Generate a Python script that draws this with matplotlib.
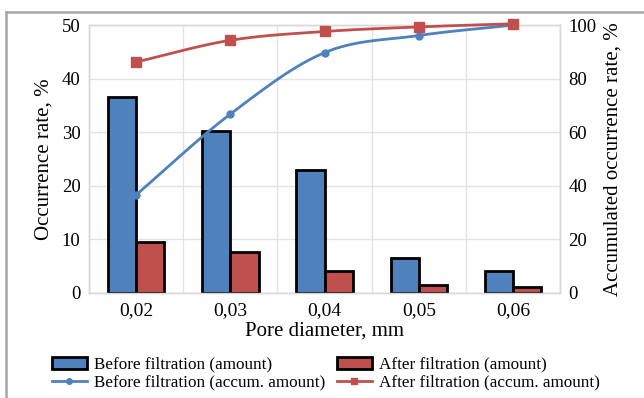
import numpy as np
import matplotlib
matplotlib.use("Agg")
import matplotlib.pyplot as plt
from matplotlib.lines import Line2D

# Data
pore_labels = ["0,02", "0,03", "0,04", "0,05", "0,06"]
before_amount = [36.5, 30.2, 23.0, 6.4, 4.0]
after_amount = [9.5, 7.5, 4.1, 1.5, 1.0]
before_accum = [36.5, 66.7, 89.7, 96.1, 100.0]
after_accum = [86.2, 94.3, 97.6, 99.3, 100.5]

BLUE = "#4f81bd"
RED = "#c0504d"
GRID = "#e3e3e3"

plt.rcParams["font.family"] = ["Liberation Serif", "DejaVu Serif"]


def smooth_curve(x, y, n=30):
    """Catmull-Rom spline through the points, used only for drawing the line."""
    x = np.asarray(x, float)
    y = np.asarray(y, float)
    px = np.concatenate([[2 * x[0] - x[1]], x, [2 * x[-1] - x[-2]]])
    py = np.concatenate([[2 * y[0] - y[1]], y, [2 * y[-1] - y[-2]]])
    xs, ys = [], []
    t = np.linspace(0, 1, n)
    for i in range(1, len(px) - 2):
        for P, out in ((px, xs), (py, ys)):
            p0, p1, p2, p3 = P[i - 1], P[i], P[i + 1], P[i + 2]
            out.append(0.5 * ((2 * p1) + (-p0 + p2) * t
                              + (2 * p0 - 5 * p1 + 4 * p2 - p3) * t ** 2
                              + (-p0 + 3 * p1 - 3 * p2 + p3) * t ** 3))
    return np.concatenate(xs), np.concatenate(ys)


fig = plt.figure(figsize=(6.44, 3.98), dpi=100)
ax = fig.add_axes([0.138, 0.265, 0.732, 0.672])
ax2 = ax.twinx()

x = np.arange(len(pore_labels))
w = 0.3
ax.bar(x - w / 2, before_amount, w, color=BLUE, edgecolor="black", linewidth=2, zorder=3)
ax.bar(x + w / 2, after_amount, w, color=RED, edgecolor="black", linewidth=2, zorder=3)

ax.set_xlim(-0.5, len(pore_labels) - 0.5)
ax.set_ylim(0, 50)
ax.set_yticks(range(0, 51, 10))
ax.set_xticks(x)
ax.set_xticklabels(pore_labels)
ax.set_xticks(np.arange(-0.5, len(pore_labels), 1.0), minor=True)
ax.grid(True, axis="y", which="major", color=GRID, linewidth=1, zorder=0)
ax.grid(True, axis="x", which="minor", color=GRID, linewidth=1, zorder=0)
ax.tick_params(axis="y", which="both", length=0, labelsize=13.5, pad=6)
ax.tick_params(axis="x", which="both", length=0, labelsize=14, pad=7)

for a in (ax, ax2):
    for s in a.spines.values():
        s.set_color("#d9d9d9")
        s.set_linewidth(1)

sx, sy = smooth_curve(x, before_accum)
ax2.plot(sx, sy, color=BLUE, linewidth=2, zorder=4, clip_on=False)
ax2.plot(x, before_accum, linestyle="none", marker="o", markersize=5, color=BLUE,
         zorder=5, clip_on=False)
sx, sy = smooth_curve(x, after_accum)
ax2.plot(sx, sy, color=RED, linewidth=2, zorder=4, clip_on=False)
ax2.plot(x, after_accum, linestyle="none", marker="s", markersize=7, color=RED,
         zorder=5, clip_on=False)
ax2.set_ylim(0, 100)
ax2.set_yticks(range(0, 101, 20))
ax2.tick_params(axis="y", length=0, labelsize=13.5, pad=6)

ax.set_xlabel("Pore diameter, mm", fontsize=15, labelpad=2)
ax.set_ylabel("Occurrence rate, %", fontsize=15, labelpad=6)
ax2.set_ylabel("Accumulated occurrence rate, %", fontsize=15, labelpad=5)

handles = [
    plt.Rectangle((0, 0), 1, 1, facecolor=BLUE, edgecolor="black", linewidth=2),
    Line2D([], [], color=BLUE, linewidth=2, marker="o", markersize=4),
    plt.Rectangle((0, 0), 1, 1, facecolor=RED, edgecolor="black", linewidth=2),
    Line2D([], [], color=RED, linewidth=2, marker="s", markersize=5),
]
labels = [
    "Before filtration (amount)",
    "Before filtration (accum. amount)",
    "After filtration (amount)",
    "After filtration (accum. amount)",
]
fig.legend(handles, labels, ncol=2, loc="upper left", bbox_to_anchor=(0.068, 0.125),
           frameon=False, fontsize=12.3, handlelength=2.0, handleheight=0.7,
           handletextpad=0.45, columnspacing=0.7, labelspacing=0.1, borderpad=0)

# outer frame
fig.add_artist(Line2D([6 / 644, 6 / 644], [0, 1 - 12 / 398], transform=fig.transFigure,
                      color="#a6a6a6", linewidth=1.8))
fig.add_artist(Line2D([6 / 644, 1], [1 - 12 / 398, 1 - 12 / 398], transform=fig.transFigure,
                      color="#a6a6a6", linewidth=1.8))

fig.savefig("out.png", dpi=100)
